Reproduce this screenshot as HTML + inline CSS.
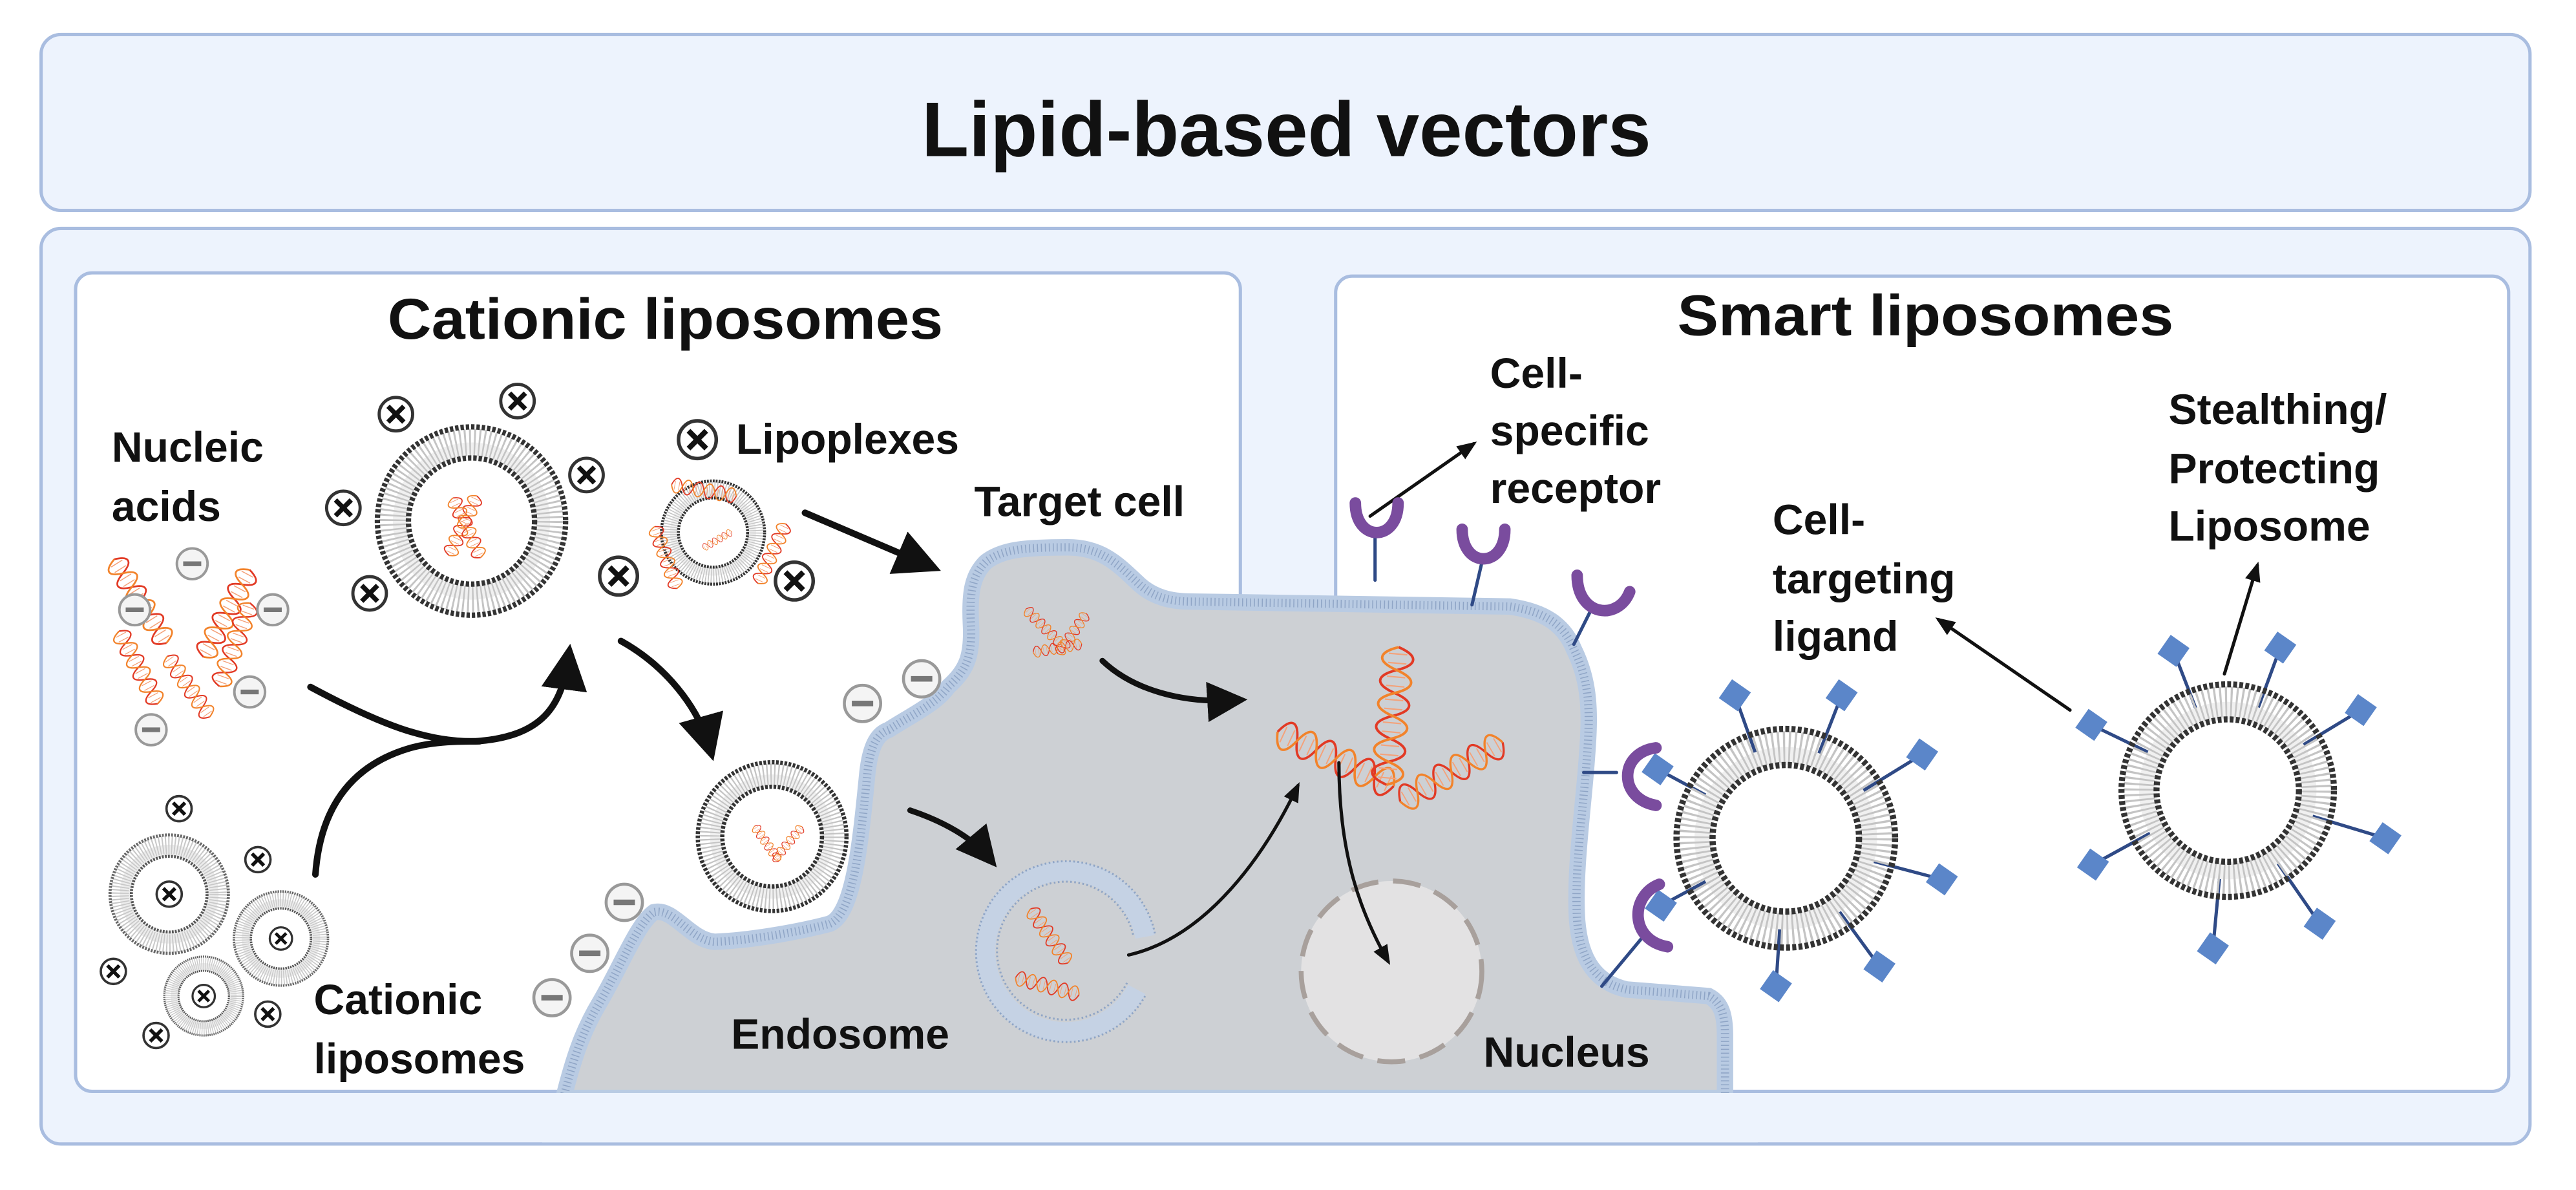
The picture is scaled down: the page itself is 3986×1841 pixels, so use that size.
<!DOCTYPE html>
<html><head><meta charset="utf-8"><style>
html,body{margin:0;padding:0;background:#fff;}
svg{display:block;}
text{font-family:"Liberation Sans",sans-serif;font-weight:bold;fill:#111;}
</style></head><body>
<svg width="3986" height="1841" viewBox="0 0 1568 724" preserveAspectRatio="none" xmlns="http://www.w3.org/2000/svg">
<defs>
<symbol id="lip" viewBox="-1.05 -1.05 2.1 2.1">
  <circle r="0.81" fill="#f0f0f0" stroke="#c4c4c4" stroke-width="0.28" stroke-dasharray="0.018 0.03"/>
  <circle r="0.97" fill="none" stroke="#333" stroke-width="0.055" stroke-dasharray="0.035 0.02"/>
  <circle r="0.65" fill="#fff" stroke="#333" stroke-width="0.055" stroke-dasharray="0.035 0.02"/>
</symbol>
<symbol id="lip2" viewBox="-1.05 -1.05 2.1 2.1">
  <circle r="0.81" fill="#ececec" stroke="#c8c8c8" stroke-width="0.3" stroke-dasharray="0.02 0.03"/>
  <circle r="0.97" fill="none" stroke="#666" stroke-width="0.05" stroke-dasharray="0.03 0.02"/>
  <circle r="0.62" fill="#fff" stroke="#555" stroke-width="0.05" stroke-dasharray="0.03 0.02"/>
</symbol>
<symbol id="dna" viewBox="0 -10 60 20" overflow="visible">
  <path d="M0 0 C3 -9 7 -9 10 0 S17 9 20 0 S27 -9 30 0 S37 9 40 0 S47 -9 50 0 S57 9 60 0" fill="none" stroke="#e23a25" stroke-width="1.1"/>
  <path d="M0 0 C3 9 7 9 10 0 S17 -9 20 0 S27 9 30 0 S37 -9 40 0 S47 9 50 0 S57 -9 60 0" fill="none" stroke="#f2832b" stroke-width="1.1"/>
  <path d="M3 -4v8M7 -4v8M13 -4v8M17 -4v8M23 -4v8M27 -4v8M33 -4v8M37 -4v8M43 -4v8M47 -4v8M53 -4v8M57 -4v8" stroke="#f4a27a" stroke-width="0.6"/>
</symbol>
<symbol id="plus" viewBox="-10 -10 20 20">
  <circle r="8.5" fill="#fff" stroke="#333" stroke-width="1.6"/>
  <path d="M-4 -4L4 4M4 -4L-4 4" stroke="#111" stroke-width="2.4"/>
</symbol>
<symbol id="minus" viewBox="-10 -10 20 20">
  <circle r="8.5" fill="#f4f4f4" stroke="#999" stroke-width="1.4"/>
  <path d="M-5 0H5" stroke="#777" stroke-width="2.6"/>
</symbol>
<marker id="ah" viewBox="0 0 10 10" refX="7" refY="5" markerWidth="7" markerHeight="7" markerUnits="strokeWidth" orient="auto"><path d="M0 0L10 5L0 10z" fill="#111"/></marker>
<marker id="ahs" viewBox="0 0 10 10" refX="8" refY="5" markerWidth="6" markerHeight="6" orient="auto"><path d="M0 1L10 5L0 9z" fill="#111"/></marker>
</defs>

<!-- frames -->
<rect x="25" y="21" width="1515" height="107" rx="12" fill="#edf3fd" stroke="#a9bde0" stroke-width="2"/>
<text x="783" y="95" font-size="47" text-anchor="middle">Lipid-based vectors</text>
<rect x="25" y="139" width="1515" height="557" rx="12" fill="#edf3fd" stroke="#a9bde0" stroke-width="2"/>
<rect x="46" y="166" width="709" height="498" rx="10" fill="#fff" stroke="#a9bde0" stroke-width="2"/>
<rect x="813" y="168" width="714" height="496" rx="10" fill="#fff" stroke="#a9bde0" stroke-width="2"/>

<!-- cell -->
<path d="M343 668 C350 640 356 625 365 610 C378 588 388 562 398 555 C410 552 420 572 435 573 C460 572 490 566 505 562 C520 556 524 510 528 470 C530 452 535 446 541 444 C555 435 570 428 577 418 C588 408 592 400 591 380 C590 360 592 350 600 342 C610 334 625 333 650 333 C672 333 682 345 694 356 C702 363 712 366 725 366 L919 369 C940 372 952 380 958 395 C968 415 968 434 966 460 C964 490 958 530 960 560 C962 585 972 598 990 602 L1040 606 C1048 610 1050 618 1050 630 L1050 668 Z" fill="#cdd0d4" stroke="#b9cbe3" stroke-width="10"/>
<path d="M343 668 C350 640 356 625 365 610 C378 588 388 562 398 555 C410 552 420 572 435 573 C460 572 490 566 505 562 C520 556 524 510 528 470 C530 452 535 446 541 444 C555 435 570 428 577 418 C588 408 592 400 591 380 C590 360 592 350 600 342 C610 334 625 333 650 333 C672 333 682 345 694 356 C702 363 712 366 725 366 L919 369 C940 372 952 380 958 395 C968 415 968 434 966 460 C964 490 958 530 960 560 C962 585 972 598 990 602 L1040 606 C1048 610 1050 618 1050 630 L1050 668" fill="none" stroke="#8fa5c6" stroke-width="5" stroke-dasharray="0.6 1.8"/>
<rect x="330" y="665" width="740" height="30" fill="#edf3fd"/>

<!-- nucleus -->
<circle cx="847" cy="591" r="55" fill="#e3e2e3" stroke="#a8a09c" stroke-width="3" stroke-dasharray="17 9"/>
<!-- endosome -->
<path d="M692 602 A49 49 0 1 1 697 570" fill="none" stroke="#c5d2e4" stroke-width="12"/>
<path d="M697 606 A55 55 0 1 1 703 568" fill="none" stroke="#8fa5c6" stroke-width="1.2" stroke-dasharray="1 1.5"/>
<path d="M686 598 A42 42 0 1 1 690 570" fill="none" stroke="#8fa5c6" stroke-width="1.2" stroke-dasharray="1 1.5"/>

<!-- liposomes -->
<use href="#lip" x="225" y="255" width="124" height="124"/>
<use href="#lip" x="400" y="290" width="68" height="68"/>
<use href="#lip" x="421" y="460" width="98" height="98"/>
<use href="#lip2" x="64" y="505" width="78" height="78"/>
<use href="#lip2" x="140" y="540" width="62" height="62"/>
<use href="#lip2" x="98" y="580" width="52" height="52"/>

<!-- DNA -->
<use href="#dna" width="60" height="20" transform="translate(78 335) rotate(58)"/>
<use href="#dna" width="60" height="20" transform="translate(115 395) rotate(-62)"/>
<use href="#dna" width="50" height="17" transform="translate(80 380) rotate(62)"/>
<use href="#dna" width="55" height="18" transform="translate(125 415) rotate(-70)"/>
<use href="#dna" width="45" height="15" transform="translate(108 395) rotate(55)"/>
<use href="#dna" width="40" height="14" transform="translate(267 335) rotate(-65)"/>
<use href="#dna" width="40" height="14" transform="translate(282 300) rotate(65)"/>
<use href="#dna" width="40" height="14" transform="translate(410 288) rotate(10)"/>
<use href="#dna" width="40" height="14" transform="translate(405 318) rotate(70)"/>
<use href="#dna" width="40" height="14" transform="translate(455 352) rotate(-65)"/>
<use href="#dna" width="20" height="8" transform="translate(426 330) rotate(-30)"/>
<use href="#dna" width="26" height="9" transform="translate(463 500) rotate(55)"/>
<use href="#dna" width="26" height="9" transform="translate(468 520) rotate(-50)"/>
<use href="#dna" width="30" height="10" transform="translate(628 367) rotate(45)"/>
<use href="#dna" width="30" height="10" transform="translate(640 395) rotate(-55)"/>
<use href="#dna" width="30" height="10" transform="translate(628 392) rotate(-10)"/>
<use href="#dna" width="40" height="14" transform="translate(633 549) rotate(55)"/>
<use href="#dna" width="40" height="14" transform="translate(620 588) rotate(15)"/>
<use href="#dna" width="85" height="26" transform="translate(780 432) rotate(25)"/>
<use href="#dna" width="100" height="28" transform="translate(866 387) rotate(95)"/>
<use href="#dna" width="75" height="24" transform="translate(845 478) rotate(-30)"/>
<use href="#dna" width="40" height="14" transform="translate(1062 492) rotate(75)"/>
<use href="#dna" width="38" height="13" transform="translate(1080 535) rotate(-38)"/>
<use href="#dna" width="36" height="12" transform="translate(1330 495) rotate(-45)"/>
<use href="#dna" width="40" height="13" transform="translate(1338 490) rotate(12)"/>

<!-- plus / minus -->
<use href="#plus" x="229" y="240" width="24" height="24"/>
<use href="#plus" x="303" y="232" width="24" height="24"/>
<use href="#plus" x="345" y="277" width="24" height="24"/>
<use href="#plus" x="197" y="297" width="24" height="24"/>
<use href="#plus" x="213" y="349" width="24" height="24"/>
<use href="#plus" x="411" y="254" width="27" height="27"/>
<use href="#plus" x="363" y="337" width="27" height="27"/>
<use href="#plus" x="470" y="340" width="27" height="27"/>
<use href="#plus" x="94" y="535" width="18" height="18"/>
<use href="#plus" x="163" y="563" width="16" height="16"/>
<use href="#plus" x="116" y="598" width="16" height="16"/>
<use href="#plus" x="100" y="483" width="18" height="18"/>
<use href="#plus" x="148" y="514" width="18" height="18"/>
<use href="#plus" x="60" y="582" width="18" height="18"/>
<use href="#plus" x="154" y="608" width="18" height="18"/>
<use href="#plus" x="86" y="621" width="18" height="18"/>
<use href="#minus" x="106" y="332" width="22" height="22"/>
<use href="#minus" x="71" y="360" width="22" height="22"/>
<use href="#minus" x="155" y="360" width="22" height="22"/>
<use href="#minus" x="141" y="410" width="22" height="22"/>
<use href="#minus" x="81" y="433" width="22" height="22"/>
<use href="#minus" x="548" y="400" width="26" height="26"/>
<use href="#minus" x="512" y="415" width="26" height="26"/>
<use href="#minus" x="367" y="536" width="26" height="26"/>
<use href="#minus" x="346" y="567" width="26" height="26"/>
<use href="#minus" x="323" y="594" width="26" height="26"/>

<!-- arrows -->
<g fill="none" stroke="#111" stroke-linecap="round">
<path d="M189 418 C230 440 260 452 290 451 C330 448 342 430 346 400" stroke-width="4" marker-end="url(#ah)"/>
<path d="M192 532 C195 490 215 465 250 455 C265 451 280 451 292 451" stroke-width="4"/>
<path d="M378 390 C405 405 425 430 432 455" stroke-width="4" marker-end="url(#ah)"/>
<path d="M490 312 L565 344" stroke-width="4" marker-end="url(#ah)"/>
<path d="M554 493 C575 500 592 510 602 522" stroke-width="3.5" marker-end="url(#ah)"/>
<path d="M671 402 C690 420 720 428 752 426" stroke-width="3.5" marker-end="url(#ah)"/>
<path d="M687 581 C735 570 770 520 790 478" stroke-width="2" marker-end="url(#ahs)"/>
<path d="M815 464 C815 520 828 555 845 585" stroke-width="2" marker-end="url(#ahs)"/>
<path d="M834 314 L897 270" stroke-width="2" marker-end="url(#ahs)"/>
<path d="M1260 432 L1180 377" stroke-width="2" marker-end="url(#ahs)"/>
<path d="M1354 410 L1374 344" stroke-width="2" marker-end="url(#ahs)"/>
</g>

<!-- smart liposome ligands -->
<g stroke="#2f4a86" stroke-width="2">
<path d="M1087 510 L1056 423 M1087 510 L1121 423 M1087 510 L1170 459 M1087 510 L1182 535 M1087 510 L1144 588 M1087 510 L1081 600 M1087 510 L1009 468 M1087 510 L1011 551"/>
<path d="M1356 481 L1323 396 M1356 481 L1388 394 M1356 481 L1437 432 M1356 481 L1452 510 M1356 481 L1412 562 M1356 481 L1347 577 M1356 481 L1273 441 M1356 481 L1274 526"/>
</g>
<use href="#lip" x="1015" y="438" width="144" height="144"/>
<use href="#lip" x="1286" y="411" width="140" height="140"/>
<g fill="#5b86c9">
<rect x="1049" y="416" width="14" height="14" transform="rotate(35 1056 423)"/>
<rect x="1114" y="416" width="14" height="14" transform="rotate(35 1121 423)"/>
<rect x="1163" y="452" width="14" height="14" transform="rotate(35 1170 459)"/>
<rect x="1175" y="528" width="14" height="14" transform="rotate(35 1182 535)"/>
<rect x="1137" y="581" width="14" height="14" transform="rotate(35 1144 588)"/>
<rect x="1074" y="593" width="14" height="14" transform="rotate(35 1081 600)"/>
<rect x="1002" y="461" width="14" height="14" transform="rotate(35 1009 468)"/>
<rect x="1004" y="544" width="14" height="14" transform="rotate(35 1011 551)"/>
<rect x="1316" y="389" width="14" height="14" transform="rotate(35 1323 396)"/>
<rect x="1381" y="387" width="14" height="14" transform="rotate(35 1388 394)"/>
<rect x="1430" y="425" width="14" height="14" transform="rotate(35 1437 432)"/>
<rect x="1445" y="503" width="14" height="14" transform="rotate(35 1452 510)"/>
<rect x="1405" y="555" width="14" height="14" transform="rotate(35 1412 562)"/>
<rect x="1340" y="570" width="14" height="14" transform="rotate(35 1347 577)"/>
<rect x="1266" y="434" width="14" height="14" transform="rotate(35 1273 441)"/>
<rect x="1267" y="519" width="14" height="14" transform="rotate(35 1274 526)"/>
</g>

<!-- receptors -->
<g fill="none" stroke-linecap="round">
<g stroke="#2f4a86" stroke-width="2"><path d="M837 322V353M903 338L896 368M968 372L958 392M984 470L964 470M1000 570L975 600"/></g>
<g stroke="#7a4c9e" stroke-width="7">
<path d="M825 306 C825 330 851 330 851 306"/>
<path d="M890 322 C890 346 916 346 916 322"/>
<path d="M960 350 C960 375 985 378 992 360"/>
<path d="M1008 455 C985 458 985 486 1008 490"/>
<path d="M1010 538 C992 545 992 572 1015 576"/>
</g></g>

<!-- titles -->
<text x="405" y="206" font-size="35" text-anchor="middle" textLength="338" lengthAdjust="spacingAndGlyphs">Cationic liposomes</text>
<text x="1172" y="204" font-size="35" text-anchor="middle" textLength="302" lengthAdjust="spacingAndGlyphs">Smart liposomes</text>

<g font-size="26">
<text x="68" y="281">Nucleic</text>
<text x="68" y="317">acids</text>
<text x="448" y="276">Lipoplexes</text>
<text x="593" y="314">Target cell</text>
<text x="191" y="617">Cationic</text>
<text x="191" y="653">liposomes</text>
<text x="445" y="638">Endosome</text>
<text x="903" y="649">Nucleus</text>
<text x="907" y="236">Cell-</text>
<text x="907" y="271">specific</text>
<text x="907" y="306">receptor</text>
<text x="1079" y="325">Cell-</text>
<text x="1079" y="361">targeting</text>
<text x="1079" y="396">ligand</text>
<text x="1320" y="258">Stealthing/</text>
<text x="1320" y="294">Protecting</text>
<text x="1320" y="329">Liposome</text>
</g>
</svg>
</body></html>
